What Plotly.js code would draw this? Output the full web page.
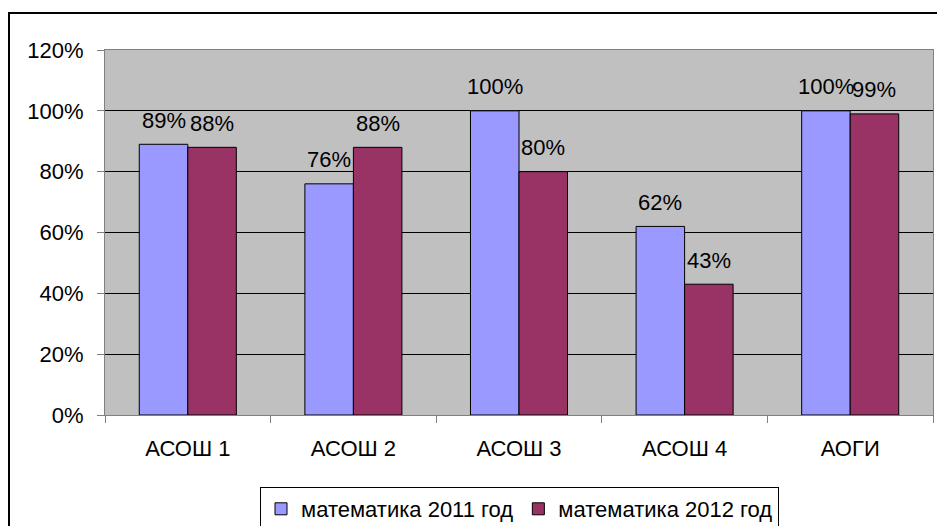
<!DOCTYPE html>
<html>
<head>
<meta charset="utf-8">
<script src="https://cdn.plot.ly/plotly-3.0.1.min.js"></script>
<style>html,body{margin:0;padding:0;background:#fff;}#chart{width:937px;height:526px;}</style>
</head>
<body>
<div id="chart"></div>
<script>
const categories = ["АСОШ 1", "АСОШ 2", "АСОШ 3", "АСОШ 4", "АОГИ"];
const seriesNames = ["математика 2011 год", "математика 2012 год"];
const math2011 = [0.89, 0.76, 1.00, 0.62, 1.00];
const math2012 = [0.88, 0.88, 0.80, 0.43, 0.99];
const colors = ["#9999FF", "#993366"];

const FONT = "Liberation Sans, Arial, sans-serif";
const FS = 22;
const series = [math2011, math2012];

const traces = series.map((vals, i) => ({
  type: "bar",
  name: seriesNames[i],
  x: categories,
  y: vals,
  marker: { color: colors[i], line: { color: "#000", width: 1 } },
  hoverinfo: "skip"
}));

const plotW = 937 - 105 - 4;
const plotH = 415 - 50;
const catW = plotW / categories.length;
const bargap = 0.414;
const barW = catW * (1 - bargap) / 2;

const annotations = [];
series.forEach((vals, i) => {
  vals.forEach((v, j) => {
    annotations.push({
      x: categories[j], y: v, xref: "x", yref: "y",
      text: Math.round(v * 100) + "%",
      showarrow: false,
      xshift: (i === 0 ? -1 : 1) * barW / 2,
      yshift: 24,
      yanchor: "middle",
      font: { family: FONT, size: FS, color: "#000" }
    });
  });
});

const layout = {
  width: 937, height: 526,
  margin: { l: 105, r: 4, t: 50, b: 111, autoexpand: false },
  paper_bgcolor: "#fff",
  plot_bgcolor: "#C0C0C0",
  barmode: "group",
  bargap: bargap,
  bargroupgap: 0,
  font: { family: FONT, size: FS, color: "#000" },
  showlegend: true,
  legend: {
    orientation: "h",
    x: (260 - 105) / plotW, y: (415 - 487) / plotH, xanchor: "left", yanchor: "top",
    bordercolor: "#000", borderwidth: 1, bgcolor: "#fff",
    font: { family: FONT, size: FS, color: "#000" },
    itemwidth: 30, tracegroupgap: 0
  },
  xaxis: {
    type: "category",
    showline: true, linecolor: "#808080", linewidth: 1, mirror: true,
    ticks: "outside", tickson: "boundaries", ticklen: 7, tickcolor: "#808080",
    ticklabelstandoff: 14,
    showgrid: false, zeroline: false, automargin: false,
    tickfont: { family: FONT, size: FS, color: "#000" }
  },
  yaxis: {
    range: [0, 1.2], dtick: 0.2, tickformat: ".0%",
    showline: true, linecolor: "#808080", linewidth: 1, mirror: true,
    ticks: "outside", ticklen: 7, tickcolor: "#808080",
    ticklabelstandoff: 9,
    showgrid: true, gridcolor: "#000", gridwidth: 1,
    zeroline: false, automargin: false,
    tickfont: { family: FONT, size: FS, color: "#000" }
  },
  annotations: annotations,
  shapes: [{
    type: "rect", xref: "paper", yref: "paper",
    x0: (9 - 105) / plotW, x1: (945 - 105) / plotW,
    y0: (415 - 540) / plotH, y1: (415 - 13) / plotH,
    line: { color: "#000", width: 2 }, fillcolor: "rgba(0,0,0,0)",
    layer: "below"
  }]
};

Plotly.newPlot("chart", traces, layout, { staticPlot: true, displayModeBar: false });
</script>
</body>
</html>
